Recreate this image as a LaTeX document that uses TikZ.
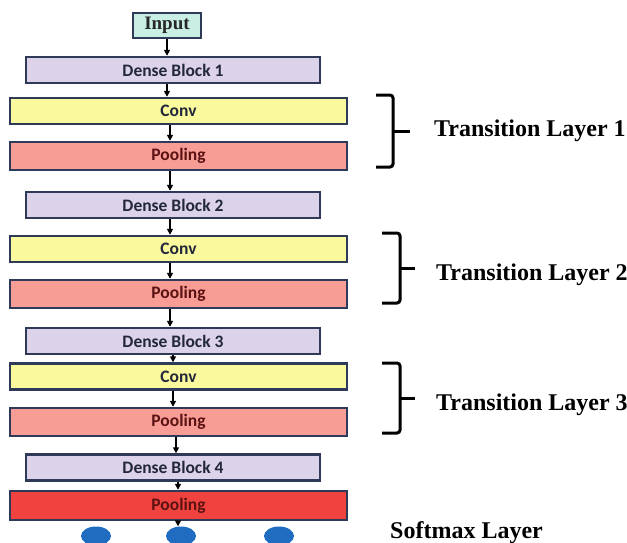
\documentclass[tikz,border=0pt]{standalone}
\usepackage{fontspec}
\setmainfont{Liberation Serif}
\newfontfamily\boxfont{Carlito}
\usetikzlibrary{arrows.meta}

\definecolor{edgeblue}{HTML}{2E3A58}
\definecolor{inputfill}{HTML}{C9EFE5}
\definecolor{densefill}{HTML}{DCD3EA}
\definecolor{convfill}{HTML}{FBF99E}
\definecolor{poolfill}{HTML}{F89C96}
\definecolor{poolred}{HTML}{F0423F}
\definecolor{dotblue}{HTML}{1F6CC0}
\definecolor{pooltext}{HTML}{5A1212}
\definecolor{boxtext}{HTML}{23273A}

\tikzset{
  layer/.style={draw=edgeblue, line width=2.4pt, rectangle, inner sep=0pt,
    font=\boxfont\bfseries\fontsize{17.5}{18}\selectfont, text=boxtext},
  wide/.style={layer, minimum width=337pt},
  narrow/.style={layer, minimum width=294pt},
  denseblk/.style={narrow, fill=densefill, minimum height=26pt},
  convblk/.style={wide, fill=convfill, minimum height=26pt},
  poolblk/.style={wide, fill=poolfill, minimum height=28pt, text=pooltext},
  finalpool/.style={wide, fill=poolred, minimum height=29pt, text=pooltext},
  flow/.style={line width=1.8pt, -{Triangle[length=6pt,width=6pt]}, black},
  brace/.style={line width=3pt, rounded corners=3pt, black},
  sidelabel/.style={anchor=base west, font=\bfseries\fontsize{24}{26}\selectfont, inner sep=0pt},
  dot/.style={ellipse, fill=dotblue, minimum width=30pt, minimum height=19pt, inner sep=0pt}
}
\usetikzlibrary{shapes.geometric}

\begin{document}
\begin{tikzpicture}[x=1pt,y=-1pt]
\useasboundingbox (0,0) rectangle (627,542);

% input
\node[draw=edgeblue, line width=2.4pt, fill=inputfill, minimum width=68pt, minimum height=25pt,
      inner sep=0pt, font=\bfseries\fontsize{19}{20}\selectfont, text=black!85] (in) at (167,25.5) {Input};

% main stack
\node[denseblk] (db1) at (173,70) {Dense Block 1};
\node[convblk]  (cv1) at (178.5,111) {Conv};
\node[poolblk]  (pl1) at (178.5,156) {Pooling};
\node[denseblk] (db2) at (173,205) {Dense Block 2};
\node[convblk]  (cv2) at (178.5,249) {Conv};
\node[poolblk]  (pl2) at (178.5,294) {Pooling};
\node[denseblk] (db3) at (173,341) {Dense Block 3};
\node[convblk]  (cv3) at (178.5,376.5) {Conv};
\node[poolblk]  (pl3) at (178.5,422) {Pooling};
\node[denseblk] (db4) at (173,467.5) {Dense Block 4};
\node[finalpool] (pl4) at (178.5,505.5) {Pooling};

% softmax outputs
\node[dot] (s1) at (96,536) {};
\node[dot] (s2) at (181,536) {};
\node[dot] (s3) at (279,536) {};

% x positions of the connecting arrows
\coordinate (xa) at (167,0);
\coordinate (xb) at (170,0);
\coordinate (xc) at (173,0);
\coordinate (xd) at (176,0);
\coordinate (xe) at (178,0);

\draw[flow] (in.south -| xa) -- (db1.north -| xa);
\draw[flow] (db1.south -| xa) -- (cv1.north -| xa);
\draw[flow] (cv1.south -| xb) -- (pl1.north -| xb);
\draw[flow] (pl1.south -| xb) -- (db2.north -| xb);
\draw[flow] (db2.south -| xb) -- (cv2.north -| xb);
\draw[flow] (cv2.south -| xb) -- (pl2.north -| xb);
\draw[flow] (pl2.south -| xb) -- (db3.north -| xb);
\draw[flow] (db3.south -| xc) -- (cv3.north -| xc);
\draw[flow] (cv3.south -| xc) -- (pl3.north -| xc);
\draw[flow] (pl3.south -| xd) -- (db4.north -| xd);
\draw[flow] (db4.south -| xe) -- (pl4.north -| xe);
\draw[flow] (pl4.south -| xe) -- (s2.north -| xe);

% braces grouping each transition layer
\draw[brace] (376,95) -- (393,95) -- (393,167) -- (376,167);
\draw[brace] (393,131) -- (410,131);
\draw[brace] (382,233) -- (400,233) -- (400,303) -- (382,303);
\draw[brace] (400,268) -- (415,268);
\draw[brace] (382,363) -- (400,363) -- (400,433) -- (382,433);
\draw[brace] (400,398) -- (415,398);

\node[sidelabel] (t1) at (434,136) {Transition Layer 1};
\node[sidelabel] (t2) at (436,280) {Transition Layer 2};
\node[sidelabel] (t3) at (436,410) {Transition Layer 3};
\node[sidelabel] (sm) at (390,538) {Softmax Layer};
\end{tikzpicture}
\end{document}
